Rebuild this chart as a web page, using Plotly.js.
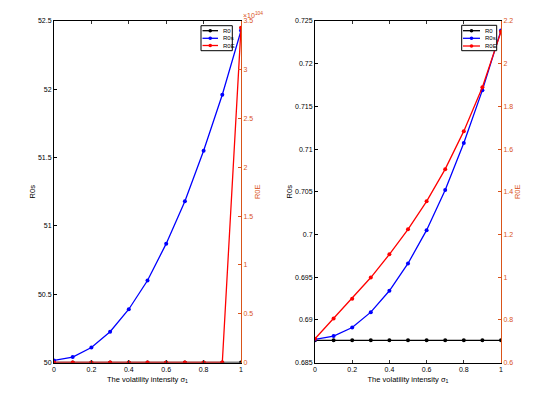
<!DOCTYPE html>
<html>
<head>
<meta charset="utf-8">
<script src="https://cdn.plot.ly/plotly-3.0.1.min.js"></script>
<style>body{margin:0;background:#fff}#chart{width:554px;height:397px}</style>
</head>
<body>
<div id="chart"></div>
<script>
// volatility intensity sigma_1
const sigma = [0, 0.1, 0.2, 0.3, 0.4, 0.5, 0.6, 0.7, 0.8, 0.9, 1.0];

// left panel
const r0Left = [50.0, 50.0, 50.0, 50.0, 50.0, 50.0, 50.0, 50.0, 50.0, 50.0, 50.0];
const r0sLeft = [50.015, 50.04, 50.11, 50.225, 50.39, 50.60, 50.87, 51.18, 51.55, 51.96, 52.43];
// R0E in units of 10^104
const r0eLeft = [0, 0, 0, 0, 0, 0, 0, 0, 0, 0, 3.43];

// right panel
const r0Right = [0.6876, 0.6876, 0.6876, 0.6876, 0.6876, 0.6876, 0.6876, 0.6876, 0.6876, 0.6876, 0.6876];
const r0sRight = [0.6877, 0.6881, 0.6891, 0.6909, 0.6934, 0.6966, 0.7005, 0.7052, 0.7107, 0.7169, 0.7239];
const r0eRight = [0.711, 0.806, 0.899, 0.998, 1.107, 1.224, 1.355, 1.506, 1.684, 1.890, 2.15];

const names = ['R0', 'R0s', 'R0E'];
const colors = ['#000000', '#0000ff', '#ff0000'];
const axisOrange = '#D95319';
const font = 'Liberation Sans, Arial, sans-serif';
const W = 554, H = 397;

function series(x, y, i, xa, ya) {
    return {
        x: x, y: y, name: names[i], type: 'scatter', mode: 'lines+markers',
        line: {color: colors[i], width: 1.3},
        marker: {color: colors[i], size: 4},
        xaxis: xa, yaxis: ya, showlegend: false
    };
}

var data = [
    series(sigma, r0Left, 0, 'x', 'y'),
    series(sigma, r0sLeft, 1, 'x', 'y'),
    series(sigma, r0eLeft, 2, 'x', 'y2'),
    series(sigma, r0Right, 0, 'x2', 'y3'),
    series(sigma, r0sRight, 1, 'x2', 'y3'),
    series(sigma, r0eRight, 2, 'x2', 'y4')
];

const yTop = 1 - 21 / H, yBot = 1 - 362.5 / H;

function xAxis(domain, anchor) {
    return {
        domain: domain, anchor: anchor, range: [0, 1], dtick: 0.2,
        showline: true, linecolor: '#000', linewidth: 1, mirror: 'ticks',
        ticks: 'inside', ticklen: 3, tickcolor: '#333',
        showgrid: false, zeroline: false,
        tickfont: {size: 7, family: font, color: '#000'},
        title: {text: 'The volatility intensity σ<sub>1</sub>', font: {size: 7.5, family: font, color: '#000'}, standoff: 4}
    };
}
function yLeft(range, dtick, anchor) {
    return {
        domain: [yBot, yTop], anchor: anchor, range: range, dtick: dtick,
        showline: true, linecolor: '#000', linewidth: 1,
        ticks: 'inside', ticklen: 3, tickcolor: '#000',
        showgrid: false, zeroline: false,
        tickfont: {size: 7, family: font, color: '#000'},
        title: {text: 'R0s', font: {size: 7.5, family: font, color: '#000'}, standoff: 1}
    };
}
function yRight(range, dtick, anchor, over) {
    return {
        domain: [yBot, yTop], anchor: anchor, overlaying: over, side: 'right',
        range: range, dtick: dtick,
        showline: true, linecolor: axisOrange, linewidth: 1,
        ticks: 'inside', ticklen: 3, tickcolor: axisOrange,
        showgrid: false, zeroline: false,
        tickfont: {size: 7, family: font, color: axisOrange},
        title: {text: 'R0E', font: {size: 7.5, family: font, color: axisOrange}, standoff: 2}
    };
}

// hand-drawn compact legend boxes (pixel positions of the legend chrome)
const shapes = [], annotations = [];
function legendBox(left, top, right, bottom, rowY, lineX0, lineX1, textX) {
    shapes.push({type: 'rect', xref: 'paper', yref: 'paper',
        x0: left / W, x1: right / W, y0: 1 - top / H, y1: 1 - bottom / H,
        line: {color: '#000', width: 1}, fillcolor: '#fff', layer: 'above'});
    names.forEach(function (n, i) {
        const yy = 1 - rowY[i] / H;
        shapes.push({type: 'line', xref: 'paper', yref: 'paper',
            x0: lineX0 / W, x1: lineX1 / W, y0: yy, y1: yy,
            line: {color: colors[i], width: 1.3}, layer: 'above'});
        const mx = (lineX0 + lineX1) / 2;
        shapes.push({type: 'circle', xref: 'paper', yref: 'paper',
            x0: (mx - 1.8) / W, x1: (mx + 1.8) / W, y0: yy - 1.8 / H, y1: yy + 1.8 / H,
            line: {color: colors[i], width: 0}, fillcolor: colors[i], layer: 'above'});
        annotations.push({text: n, xref: 'paper', yref: 'paper', x: textX / W, y: yy,
            xanchor: 'left', yanchor: 'middle', showarrow: false,
            font: {size: 6, family: font, color: '#000'}});
    });
}
legendBox(201, 25.7, 232.3, 50.7, [30.7, 38.3, 45.5], 202.5, 218, 221);
legendBox(461.7, 25.3, 496.7, 50.7, [30.7, 38.3, 46], 463, 480, 482.5);

annotations.push({
    text: '×10<sup>104</sup>', xref: 'paper', yref: 'paper',
    x: 241 / W, y: 1 - 21 / H, xanchor: 'left', yanchor: 'bottom',
    showarrow: false, font: {size: 7, family: font, color: axisOrange}
});

var layout = {
    width: W, height: H,
    margin: {l: 0, r: 0, t: 0, b: 0},
    paper_bgcolor: '#fff', plot_bgcolor: '#fff',
    xaxis: xAxis([54 / W, 241 / W], 'y'),
    yaxis: yLeft([50, 52.5], 0.5, 'x'),
    yaxis2: yRight([0, 3.5], 0.5, 'x', 'y'),
    xaxis2: xAxis([315 / W, 501 / W], 'y3'),
    yaxis3: yLeft([0.685, 0.725], 0.005, 'x2'),
    yaxis4: yRight([0.6, 2.2], 0.2, 'x2', 'y3'),
    shapes: shapes,
    annotations: annotations,
    showlegend: false
};

Plotly.newPlot('chart', data, layout, {displayModeBar: false, staticPlot: true});
</script>
</body>
</html>
